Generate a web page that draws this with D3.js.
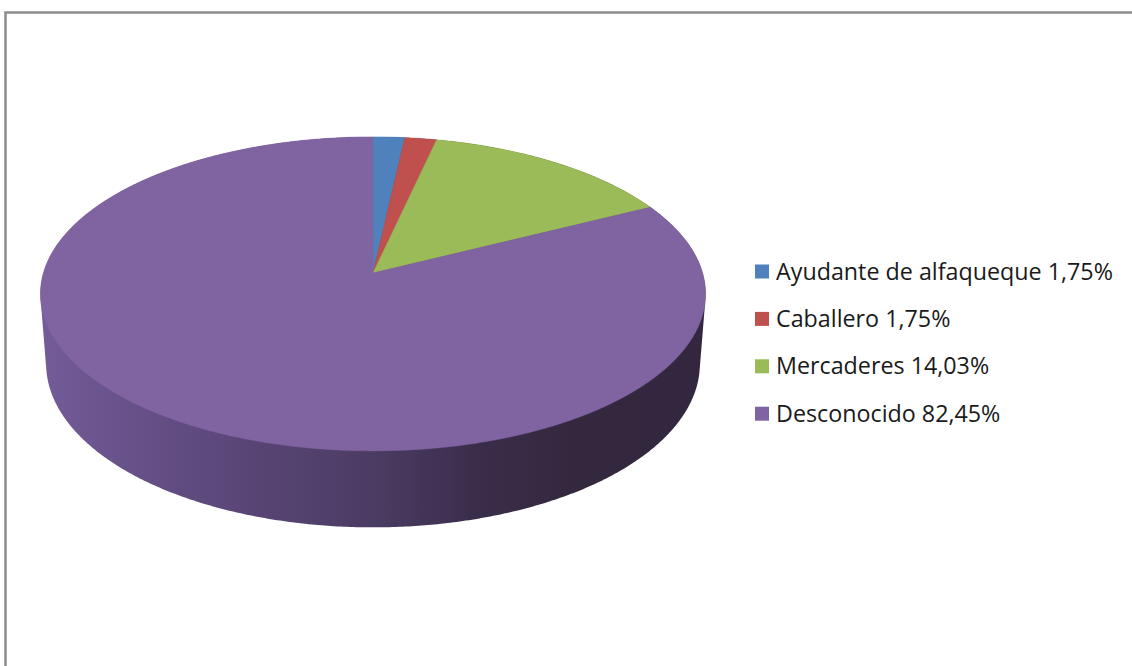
<!DOCTYPE html>
<html>
<head>
<meta charset="utf-8">
<script src="https://cdn.jsdelivr.net/npm/d3@7"></script>
<style>
  html, body { margin: 0; padding: 0; background: #ffffff; }
  svg { display: block; }
</style>
</head>
<body>
<svg id="chart" width="1132" height="666"></svg>
<script>
// Data
const categories = ["Ayudante de alfaqueque", "Caballero", "Mercaderes", "Desconocido"];
const percentages = [1.75, 1.75, 14.03, 82.45];
const percentLabels = ["1,75%", "1,75%", "14,03%", "82,45%"];
const sliceColors = ["#4F81BD", "#C0504D", "#9BBB59", "#8064A2"];

const svg = d3.select("#chart");
const W = 1132, H = 666;

// Chart frame
svg.append("rect")
  .attr("x", 5.5).attr("y", 12.5)
  .attr("width", W + 20).attr("height", H + 20)
  .attr("fill", "#ffffff")
  .attr("stroke", "#8c8c8c")
  .attr("stroke-width", 2.5);

// Perspective 3D pie: unit disk of radius r at distance 1 from the camera,
// camera pitched down by alpha.
const cx = 373, cy = 273;
const alpha = 27.9 * Math.PI / 180;
const r = 0.1505, depthH = 0.0365, f = 2190;
const sA = Math.sin(alpha), cA = Math.cos(alpha);

function project(theta, Y) {
  const X = r * Math.sin(theta), Z = r * Math.cos(theta);
  const d = 1 - Y * sA + Z * cA;
  return [cx + f * X / d, cy - f * (Y * cA + Z * sA) / d];
}
function projectCenter(Y) {
  const d = 1 - Y * sA;
  return [cx, cy - f * (Y * cA) / d];
}

const pie = d3.pie().sort(null).value(d => d).startAngle(0).endAngle(2 * Math.PI);
const arcs = pie(percentages);

// Side wall: silhouette of the cylinder shaded left to right
const defs = svg.append("defs");
const grad = defs.append("linearGradient")
  .attr("id", "sideGrad")
  .attr("gradientUnits", "userSpaceOnUse")
  .attr("x1", 41).attr("y1", 0).attr("x2", 705).attr("y2", 0);
[[0, "#735c98"], [0.16, "#654f86"], [0.33, "#574474"], [0.51, "#4a3b62"],
 [0.66, "#3a2d4a"], [0.8, "#34283f"], [1, "#33273f"]].forEach(([o, c]) =>
  grad.append("stop").attr("offset", o).attr("stop-color", c));

const N = 720;
const rimPts = [];
for (let i = 0; i < N; i++) {
  const t = (i / N) * 2 * Math.PI;
  rimPts.push(project(t, 0));
  rimPts.push(project(t, -depthH));
}
const hull = d3.polygonHull(rimPts);
svg.append("path")
  .attr("d", "M" + hull.map(p => p.join(",")).join("L") + "Z")
  .attr("fill", "url(#sideGrad)");

// Top faces of the slices
const line = d3.line();
svg.append("g").selectAll("path")
  .data(arcs)
  .join("path")
  .attr("d", a => {
    const steps = Math.max(4, Math.ceil((a.endAngle - a.startAngle) / 0.005));
    const pts = [projectCenter(0)];
    for (let i = 0; i <= steps; i++) {
      pts.push(project(a.startAngle + (a.endAngle - a.startAngle) * i / steps, 0));
    }
    return line(pts) + "Z";
  })
  .attr("fill", (a, i) => sliceColors[i])
  .attr("stroke", (a, i) => sliceColors[i])
  .attr("stroke-width", 0.5);

// Legend
const legendX = 755, legendY0 = 279.5, legendStep = 47.4;
const fontFamily = "'Open Sans', 'Noto Sans', sans-serif";
const legend = svg.append("g");
const items = legend.selectAll("g")
  .data(categories)
  .join("g")
  .attr("transform", (d, i) => `translate(0,${legendY0 + i * legendStep})`);
items.append("rect")
  .attr("x", legendX).attr("y", -15)
  .attr("width", 14).attr("height", 14)
  .attr("fill", (d, i) => sliceColors[i]);
const texts = items.append("text")
  .attr("x", 776).attr("y", 0)
  .attr("font-family", fontFamily)
  .attr("font-size", 20)
  .attr("fill", "#1a1a1a")
  .text((d, i) => `${d} ${percentLabels[i]}`);

// Fit the legend font so the longest entry ends near the frame edge
const w0 = texts.nodes()[0].getComputedTextLength();
const fs = 20 * 337 / w0;
texts.attr("font-size", fs.toFixed(2));
</script>
</body>
</html>
